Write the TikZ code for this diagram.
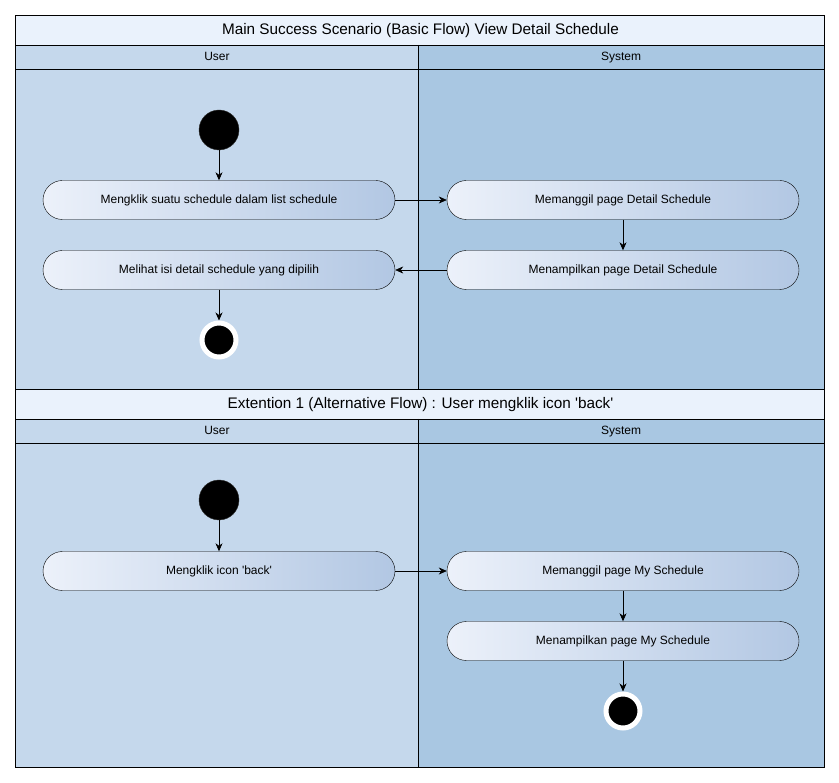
\documentclass[tikz,border=0pt]{standalone}
\usepackage{fontspec}
\setmainfont{Liberation Sans}
\usetikzlibrary{positioning, arrows.meta, shadows}

\definecolor{titlefill}{HTML}{EAF2FC}
\definecolor{userfill}{HTML}{C5D8EC}
\definecolor{sysfill}{HTML}{A9C7E2}
\definecolor{actleft}{HTML}{ECF1FA}
\definecolor{actright}{HTML}{B2C7E3}

\begin{document}
\begin{tikzpicture}
	[x=1pt, y=-1pt, on grid, node distance=70pt and 404pt,
	 action/.style={rectangle, rounded corners=19.5pt, draw, left color=actleft, right color=actright,
	   minimum width=352pt, minimum height=39pt, font=\fontsize{12}{14}\selectfont},
	 startdot/.style={circle, fill=black, draw=black!80, minimum size=40pt, inner sep=0pt},
	 enddot/.style={circle, fill=black, draw=white, line width=5pt, minimum size=34pt, inner sep=0pt,
	   drop shadow={opacity=0.35, shadow xshift=1.2pt, shadow yshift=-1.2pt}},
	 flowtitle/.style={font=\fontsize{15.3}{17}\selectfont, text height=11pt, text depth=3pt},
	 lanehead/.style={font=\fontsize{12}{14}\selectfont, text height=8.6pt, text depth=2.6pt},
	 flow/.style={-{Stealth[length=8pt, width=7pt, inset=2.5pt]}, semithick}]
   \useasboundingbox (0,0) rectangle (839,783);
   % swimlanes
   \fill[titlefill] (15,15) rectangle (824,45);
   \fill[userfill] (15,45) rectangle (418,389);
   \fill[sysfill] (418,45) rectangle (824,389);
   \fill[titlefill] (15,389) rectangle (824,419);
   \fill[userfill] (15,419) rectangle (418,767);
   \fill[sysfill] (418,419) rectangle (824,767);
   \draw (15,45) -- (824,45) (15,69) -- (824,69) (418,45) -- (418,389);
   \draw (15,389) -- (824,389) (15,419) -- (824,419) (15,443) -- (824,443) (418,419) -- (418,767);
   \draw[thick] (15,15) rectangle (824,767);
   \node[flowtitle] (main) at (420.5,30.5) {Main Success Scenario (Basic Flow) View Detail Schedule};
   \node[lanehead] (user_1) at (217,57.5) {User};
   \node[lanehead] (sys_1) at (621,57.5) {System};
   \node[flowtitle] (ext) at (420.5,404.5) {Extention 1 (Alternative Flow) : User mengklik icon \textquotesingle back\textquotesingle};
   \node[lanehead] (user_2) at (217,431.5) {User};
   \node[lanehead] (sys_2) at (621,431.5) {System};

   % basic flow
   \node[startdot] (s_1) at (219,130) {};
   \node[action] (a_1) [below=of s_1] {Mengklik suatu schedule dalam list schedule};
   \node[action] (a_2) [right=of a_1] {Memanggil page Detail Schedule};
   \node[action] (a_3) [below=of a_2] {Menampilkan page Detail Schedule};
   \node[action] (a_4) [below=of a_1] {Melihat isi detail schedule yang dipilih};
   \node[enddot] (e_1) [below=of a_4] {};
   \path[flow]
    (s_1) edge (a_1)
    (a_1) edge (a_2)
    (a_2) edge (a_3)
    (a_3) edge (a_4)
    (a_4) edge (e_1);

   % alternative flow
   \node[startdot] (s_2) at (219,500) {};
   \node[action] (a_5) [below=71pt of s_2] {Mengklik icon \textquotesingle back\textquotesingle};
   \node[action] (a_6) [right=of a_5] {Memanggil page My Schedule};
   \node[action] (a_7) [below=of a_6] {Menampilkan page My Schedule};
   \node[enddot] (e_2) [below=of a_7] {};
   \path[flow]
    (s_2) edge (a_5)
    (a_5) edge (a_6)
    (a_6) edge (a_7)
    (a_7) edge (e_2);
\end{tikzpicture}
\end{document}
